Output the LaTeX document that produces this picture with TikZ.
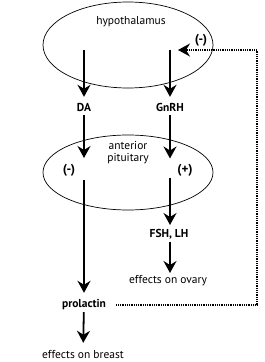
\documentclass[tikz,border=0pt]{standalone}
\usepackage{fontspec}
\setmainfont{PT Sans}
\usetikzlibrary{arrows.meta,shapes.geometric}
\begin{document}
\begin{tikzpicture}[x=1pt,y=-1pt,
  lbl/.style={inner sep=0pt,text height=7pt,text depth=0pt,font=\fontsize{11.5}{13}\selectfont},
  blbl/.style={lbl,font=\fontsize{11.5}{13}\selectfont\bfseries},
  sign/.style={lbl,font=\fontsize{13}{15}\selectfont\bfseries},
  organ/.style={draw,ellipse,line width=0.7pt,inner sep=0pt},
  arr/.style={line width=1.8pt,-{Stealth[length=12pt,width=13pt,inset=4pt]}},
  fbline/.style={line width=1.5pt,dash pattern=on 1pt off 0.8pt,-{Stealth[length=12pt,width=13pt,inset=4pt]}}]
\useasboundingbox (0,0) rectangle (265,362);
% organs
\node[organ,minimum width=170pt,minimum height=86pt] (hyp) at (128,45) {};
\node[organ,minimum width=170pt,minimum height=75pt] (pit) at (128,172.5) {};
% labels
\node[lbl] (hyptxt) at (131,21) {hypothalamus};
\node[lbl] (ant) at (128,145.5) {anterior};
\node[lbl] (pitu) at (128,158) {pituitary};
\node[sign] (fbsign) at (201,40) {(-)};
\node[blbl] (DA) at (84,107.5) {DA};
\node[blbl] (GnRH) at (170,107.5) {GnRH};
\node[sign] (minus) at (69,169.5) {(-)};
\node[sign] (plus) at (185,169.5) {(+)};
\node[blbl] (FSH) at (169,233.5) {FSH, LH};
\node[lbl] (ovary) at (168,279.5) {effects on ovary};
\node[blbl] (prl) at (84,303.5) {prolactin};
\node[lbl] (breast) at (83,354.5) {effects on breast};
% coordinates
\coordinate (hDA) at (84,50);
\coordinate (hG) at (170,50);
\coordinate (c1) at (257,305);
\coordinate (c2) at (257,50);
\coordinate (fb) at (178,50);
\coordinate (pS) at (84,305);
% arrows
\draw[arr,shorten >=7pt] (hDA) -- (DA);
\draw[arr,shorten >=7pt] (hG) -- (GnRH);
\draw[arr,shorten <=4pt,shorten >=11.5pt] (DA) -- (DA |- minus);
\draw[arr,shorten <=4pt,shorten >=11pt] (GnRH) -- (GnRH |- plus);
\draw[arr,shorten <=10.5pt,shorten >=7pt] (DA |- minus) -- (prl);
\draw[arr,shorten <=8.5pt,shorten >=8.5pt] (GnRH |- plus) -- (GnRH |- FSH);
\draw[arr,shorten <=8.5pt,shorten >=6.5pt] (GnRH |- FSH) -- (GnRH |- ovary);
\draw[arr,shorten <=5pt,shorten >=8pt] (prl) -- (breast);
\draw[fbline] ([xshift=10pt]prl.east |- pS) -- (c1) -- (c2) -- (fb);
\end{tikzpicture}
\end{document}
